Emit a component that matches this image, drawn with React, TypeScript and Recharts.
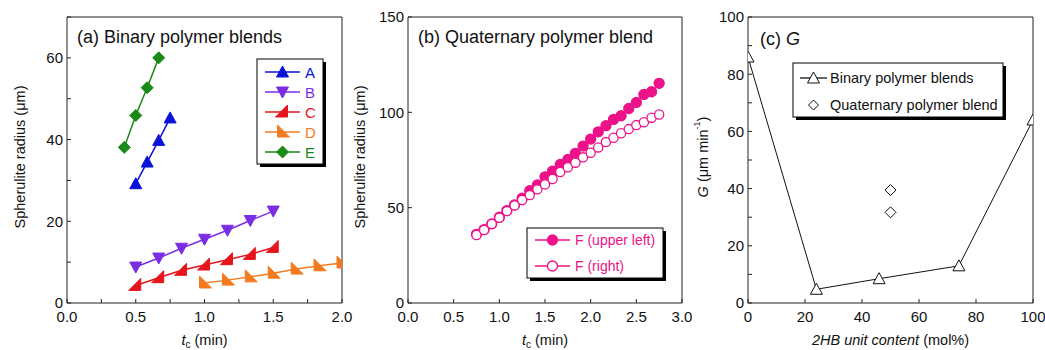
import React from 'react';
import { ScatterChart, Scatter, XAxis, YAxis, Customized } from 'recharts';

const FONT = '"Liberation Sans", Arial, Helvetica, sans-serif';
const AXIS = '#222';

// (a) binary polymer blends: tc (min) vs spherulite radius (um)
const tA = [0.5, 0.583, 0.667, 0.75];
const rA = [29.2, 34.5, 39.8, 45.3];
const tB = [0.5, 0.667, 0.833, 1.0, 1.167, 1.333, 1.5];
const rB = [8.8, 11.0, 13.4, 15.6, 17.8, 20.2, 22.5];
const tC = [0.5, 0.667, 0.833, 1.0, 1.167, 1.333, 1.5];
const rC = [4.3, 6.2, 8.0, 9.3, 10.6, 11.9, 13.6];
const tD = [1.0, 1.167, 1.333, 1.5, 1.667, 1.833, 2.0];
const rD = [4.9, 5.6, 6.4, 7.3, 8.3, 9.1, 9.8];
const tE = [0.417, 0.5, 0.583, 0.667];
const rE = [38.1, 45.9, 52.7, 60.0];

// (b) quaternary polymer blend
const tF = [0.75, 0.833, 0.917, 1.0, 1.083, 1.167, 1.25, 1.333, 1.417, 1.5, 1.583, 1.667, 1.75,
  1.833, 1.917, 2.0, 2.083, 2.167, 2.25, 2.333, 2.417, 2.5, 2.583, 2.667, 2.75];
const rFupper = [36, 38.5, 41.5, 45, 48.5, 51.5, 55, 58.9, 61.9, 66.2, 69.2, 72.7, 75.3,
  78.5, 82.3, 86, 89.8, 93, 96.3, 98.2, 102, 105.2, 109.4, 110.8, 115.2];
const rFright = [35.7, 38.3, 41.4, 44.7, 48.2, 51.2, 54, 56.6, 59.6, 62.2, 65, 68.7, 71.2,
  73.6, 76.4, 78.8, 81.6, 84.4, 86.7, 89, 91.2, 93.3, 94.8, 97.2, 98.9];

// (c) growth rate G vs 2HB content
const binX = [0, 24, 46, 74, 100];
const binG = [86, 4.8, 8.5, 13, 64];
const quatX = [50, 50];
const quatG = [39.5, 31.7];

// ticks
const aXTicks = [0, 0.25, 0.5, 0.75, 1, 1.25, 1.5, 1.75, 2];
const aYTicks = [0, 10, 20, 30, 40, 50, 60, 70];
const bXTicks = [0, 0.5, 1, 1.5, 2, 2.5, 3];
const bYTicks = [0, 50, 100, 150];
const cXTicks = [0, 20, 40, 60, 80, 100];
const cYTicks = [0, 10, 20, 30, 40, 50, 60, 70, 80, 90, 100];

const COL = {
  A: '#0a12d6',
  B: '#7a2ee4',
  C: '#e6141c',
  D: '#f47a20',
  E: '#178a17',
  F: '#ec1288',
};

const pts = (xs: number[], ys: number[]) => xs.map((x, i) => ({ x, y: ys[i] }));

// marker shapes
const triUp = (c: string, fill = c, s = 6) => (p: any) => (
  <polygon points={`${p.cx},${p.cy - s} ${p.cx - s},${p.cy + s - 1} ${p.cx + s},${p.cy + s - 1}`} fill={fill} stroke={c} strokeWidth={1} />
);
const triDown = (c: string) => (p: any) => (
  <polygon points={`${p.cx},${p.cy + 6} ${p.cx - 6},${p.cy - 5} ${p.cx + 6},${p.cy - 5}`} fill={c} stroke={c} />
);
const triC = (c: string) => (p: any) => (
  <polygon points={`${p.cx + 5},${p.cy - 7} ${p.cx + 5},${p.cy + 5} ${p.cx - 7},${p.cy + 5}`} fill={c} stroke={c} />
);
const triD = (c: string) => (p: any) => (
  <polygon points={`${p.cx - 5},${p.cy - 7} ${p.cx - 5},${p.cy + 5} ${p.cx + 7},${p.cy + 5}`} fill={c} stroke={c} />
);
const diamond = (c: string, fill = c, s = 6) => (p: any) => (
  <polygon points={`${p.cx},${p.cy - s} ${p.cx + s},${p.cy} ${p.cx},${p.cy + s} ${p.cx - s},${p.cy}`} fill={fill} stroke={c} strokeWidth={1} />
);
const circle = (c: string, fill: string, r = 5) => (p: any) => (
  <circle cx={p.cx} cy={p.cy} r={r} fill={fill} stroke={c} strokeWidth={1.3} />
);

const tickStyle = { fill: '#111', fontSize: 15, fontFamily: FONT };

const yLabel = (dx: number, node: React.ReactNode) => (props: any) => {
  const vb = props.viewBox || {};
  const x = vb.x + dx;
  const y = vb.y + vb.height / 2 - 3;
  return (
    <text x={x} y={y} transform={`rotate(-90, ${x}, ${y})`} textAnchor="middle" dominantBaseline="central"
      fontSize={14.5} fontFamily={FONT} fill="#111">{node}</text>
  );
};

const xLabel = (node: React.ReactNode) => (props: any) => {
  const vb = props.viewBox || {};
  return (
    <text x={vb.x + vb.width / 2} y={vb.y + 42} textAnchor="middle" fontSize={14.5} fontFamily={FONT} fill="#111">{node}</text>
  );
};

const tcLabel = (
  <>
    <tspan fontStyle="italic">t</tspan>
    <tspan fontSize={10} dy={3}>c</tspan>
    <tspan dy={-3}> (min)</tspan>
  </>
);

type LegendRow = { label: string; color: string; text: string; marker: (p: any) => React.ReactNode; noLine?: boolean };

function LegendBox({ x, y, w, h, rows, rowY, lx1, lx2, tx, fs }: {
  x: number; y: number; w: number; h: number; rows: LegendRow[]; rowY: number[];
  lx1: number; lx2: number; tx: number; fs: number;
}) {
  return (
    <g>
      <rect x={x + 3} y={y + 3} width={w} height={h} fill="#000" />
      <rect x={x} y={y} width={w} height={h} fill="#fff" stroke="#000" strokeWidth={1} />
      {rows.map((r, i) => (
        <g key={r.label}>
          {!r.noLine && <line x1={lx1} x2={lx2} y1={rowY[i]} y2={rowY[i]} stroke={r.color} strokeWidth={1.3} />}
          {r.marker({ cx: (lx1 + lx2) / 2, cy: rowY[i] })}
          <text x={tx} y={rowY[i]} dominantBaseline="central" fontSize={fs} fontFamily={FONT} fill={r.text}>{r.label}</text>
        </g>
      ))}
    </g>
  );
}

function PanelA() {
  const fmtX = (v: number) => (Math.abs(v * 2 - Math.round(v * 2)) < 1e-6 ? v.toFixed(1) : '');
  const fmtY = (v: number) => (v % 20 === 0 ? String(v) : '');
  const rows: LegendRow[] = [
    { label: 'A', color: COL.A, text: COL.A, marker: triUp(COL.A) },
    { label: 'B', color: COL.B, text: COL.B, marker: triDown(COL.B) },
    { label: 'C', color: COL.C, text: COL.C, marker: triC(COL.C) },
    { label: 'D', color: COL.D, text: COL.D, marker: triD(COL.D) },
    { label: 'E', color: COL.E, text: COL.E, marker: diamond(COL.E) },
  ];
  return (
    <div style={{ position: 'absolute', left: 0, top: 0 }}>
      <ScatterChart width={380} height={350} margin={{ top: 16, right: 37, bottom: 17, left: 0 }}>
        <XAxis xAxisId="b" type="number" dataKey="x" domain={[0, 2]} ticks={aXTicks} interval={0}
          tickFormatter={fmtX} tickSize={-4} tickMargin={12} height={30} stroke={AXIS} tick={tickStyle}
          allowDataOverflow label={{ content: xLabel(tcLabel) }} />
        <XAxis xAxisId="t" orientation="top" type="number" domain={[0, 2]} ticks={aXTicks} interval={0}
          tick={false} tickSize={-4} height={1} stroke={AXIS} allowDataOverflow />
        <YAxis yAxisId="l" type="number" dataKey="y" domain={[0, 70]} ticks={aYTicks} interval={0}
          tickFormatter={fmtY} tickSize={-4} tickMargin={8} width={67} stroke={AXIS} tick={tickStyle}
          allowDataOverflow label={{ content: yLabel(20, 'Spherulite radius (\u03bcm)') }} />
        <YAxis yAxisId="r" orientation="right" type="number" domain={[0, 70]} ticks={aYTicks} interval={0}
          tick={false} tickSize={-4} width={1} stroke={AXIS} allowDataOverflow />
        <Scatter xAxisId="b" yAxisId="l" data={pts(tE, rE)} line={{ stroke: COL.E, strokeWidth: 1.5 }} lineType="joint" shape={diamond(COL.E)} isAnimationActive={false} />
        <Scatter xAxisId="b" yAxisId="l" data={pts(tA, rA)} line={{ stroke: COL.A, strokeWidth: 1.5 }} lineType="joint" shape={triUp(COL.A)} isAnimationActive={false} />
        <Scatter xAxisId="b" yAxisId="l" data={pts(tB, rB)} line={{ stroke: COL.B, strokeWidth: 1.5 }} lineType="joint" shape={triDown(COL.B)} isAnimationActive={false} />
        <Scatter xAxisId="b" yAxisId="l" data={pts(tC, rC)} line={{ stroke: COL.C, strokeWidth: 1.5 }} lineType="joint" shape={triC(COL.C)} isAnimationActive={false} />
        <Scatter xAxisId="b" yAxisId="l" data={pts(tD, rD)} line={{ stroke: COL.D, strokeWidth: 1.5 }} lineType="joint" shape={triD(COL.D)} isAnimationActive={false} />
        <Customized component={() => (
          <g>
            <text x={77} y={43} fontSize={18} fontFamily={FONT} fill="#111">(a) Binary polymer blends</text>
            <LegendBox x={257} y={59} w={66} h={105} rows={rows} rowY={[72, 92, 112, 132, 152]} lx1={265} lx2={300} tx={305} fs={15} />
          </g>
        )} />
      </ScatterChart>
    </div>
  );
}

function PanelB() {
  const rows: LegendRow[] = [
    { label: 'F (upper left)', color: COL.F, text: COL.F, marker: circle(COL.F, COL.F) },
    { label: 'F (right)', color: COL.F, text: COL.F, marker: circle(COL.F, '#fff') },
  ];
  return (
    <div style={{ position: 'absolute', left: 340, top: 0 }}>
      <ScatterChart width={380} height={350} margin={{ top: 16, right: 37, bottom: 17, left: 0 }}>
        <XAxis xAxisId="b" type="number" dataKey="x" domain={[0, 3]} ticks={bXTicks} interval={0}
          tickFormatter={(v: number) => v.toFixed(1)} tickSize={-4} tickMargin={12} height={30} stroke={AXIS} tick={tickStyle}
          allowDataOverflow label={{ content: xLabel(tcLabel) }} />
        <XAxis xAxisId="t" orientation="top" type="number" domain={[0, 3]} ticks={bXTicks} interval={0}
          tick={false} tickSize={-4} height={1} stroke={AXIS} allowDataOverflow />
        <YAxis yAxisId="l" type="number" dataKey="y" domain={[0, 150]} ticks={bYTicks} interval={0}
          tickSize={-4} tickMargin={8} width={68} stroke={AXIS} tick={tickStyle}
          allowDataOverflow label={{ content: yLabel(20, 'Spherulite radius (\u03bcm)') }} />
        <YAxis yAxisId="r" orientation="right" type="number" domain={[0, 150]} ticks={bYTicks} interval={0}
          tick={false} tickSize={-4} width={1} stroke={AXIS} allowDataOverflow />
        <Scatter xAxisId="b" yAxisId="l" data={pts(tF, rFupper)} line={{ stroke: COL.F, strokeWidth: 1 }} lineType="joint" shape={circle(COL.F, COL.F)} isAnimationActive={false} />
        <Scatter xAxisId="b" yAxisId="l" data={pts(tF, rFright)} line={{ stroke: COL.F, strokeWidth: 1 }} lineType="joint" shape={circle(COL.F, '#fff', 4.6)} isAnimationActive={false} />
        <Customized component={() => (
          <g>
            <text x={78} y={43} fontSize={18} fontFamily={FONT} fill="#111">(b) Quaternary polymer blend</text>
            <LegendBox x={187} y={228} w={136} h={50} rows={rows} rowY={[240, 266]} lx1={195} lx2={230} tx={235} fs={14} />
          </g>
        )} />
      </ScatterChart>
    </div>
  );
}

const gLabel = (
  <>
    <tspan fontStyle="italic">G</tspan>
    <tspan>{' (\u03bcm  min'}</tspan>
    <tspan fontSize={9} dy={-6}>-1</tspan>
    <tspan dy={6}>)</tspan>
  </>
);

function PanelC() {
  const fmt20 = (v: number) => (v % 20 === 0 ? String(v) : '');
  const rows: LegendRow[] = [
    { label: 'Binary polymer blends', color: '#111', text: '#111', marker: triUp('#111', '#fff', 6) },
    { label: 'Quaternary polymer blend', color: '#111', text: '#111', marker: diamond('#111', '#fff', 5), noLine: true },
  ];
  return (
    <div style={{ position: 'absolute', left: 690, top: 0 }}>
      <ScatterChart width={355} height={350} margin={{ top: 16, right: 11, bottom: 17, left: 0 }}>
        <XAxis xAxisId="b" type="number" dataKey="x" domain={[0, 100]} ticks={cXTicks} interval={0}
          tickSize={-4} tickMargin={12} height={30} stroke={AXIS} tick={tickStyle}
          allowDataOverflow label={{ content: xLabel(<><tspan fontStyle="italic">2HB unit content</tspan><tspan> (mol%)</tspan></>) }} />
        <XAxis xAxisId="t" orientation="top" type="number" domain={[0, 100]} ticks={cXTicks} interval={0}
          tick={false} tickSize={-4} height={1} stroke={AXIS} allowDataOverflow />
        <YAxis yAxisId="l" type="number" dataKey="y" domain={[0, 100]} ticks={cYTicks} interval={0}
          tickFormatter={fmt20} tickSize={-4} tickMargin={8} width={58} stroke={AXIS} tick={tickStyle}
          allowDataOverflow label={{ content: yLabel(13, gLabel) }} />
        <YAxis yAxisId="r" orientation="right" type="number" domain={[0, 100]} ticks={cYTicks} interval={0}
          tick={false} tickSize={-4} width={1} stroke={AXIS} allowDataOverflow />
        <Scatter xAxisId="b" yAxisId="l" data={pts(binX, binG)} line={{ stroke: '#111', strokeWidth: 1 }} lineType="joint" shape={triUp('#111', '#fff', 6)} isAnimationActive={false} />
        <Scatter xAxisId="b" yAxisId="l" data={pts(quatX, quatG)} shape={diamond('#111', '#fff', 5.5)} isAnimationActive={false} />
        <Customized component={() => (
          <g>
            <text x={70} y={45} fontSize={18} fontFamily={FONT} fill="#111">(c) <tspan fontStyle="italic">G</tspan></text>
            <LegendBox x={103} y={63} w={210} h={54} rows={rows} rowY={[78, 105]} lx1={110} lx2={137} tx={140} fs={14.5} />
          </g>
        )} />
      </ScatterChart>
    </div>
  );
}

export default function App() {
  return (
    <div style={{ position: 'absolute', left: 0, top: 0, width: 1045, height: 350, background: '#fff', fontFamily: FONT }}>
      <PanelA />
      <PanelB />
      <PanelC />
    </div>
  );
}
